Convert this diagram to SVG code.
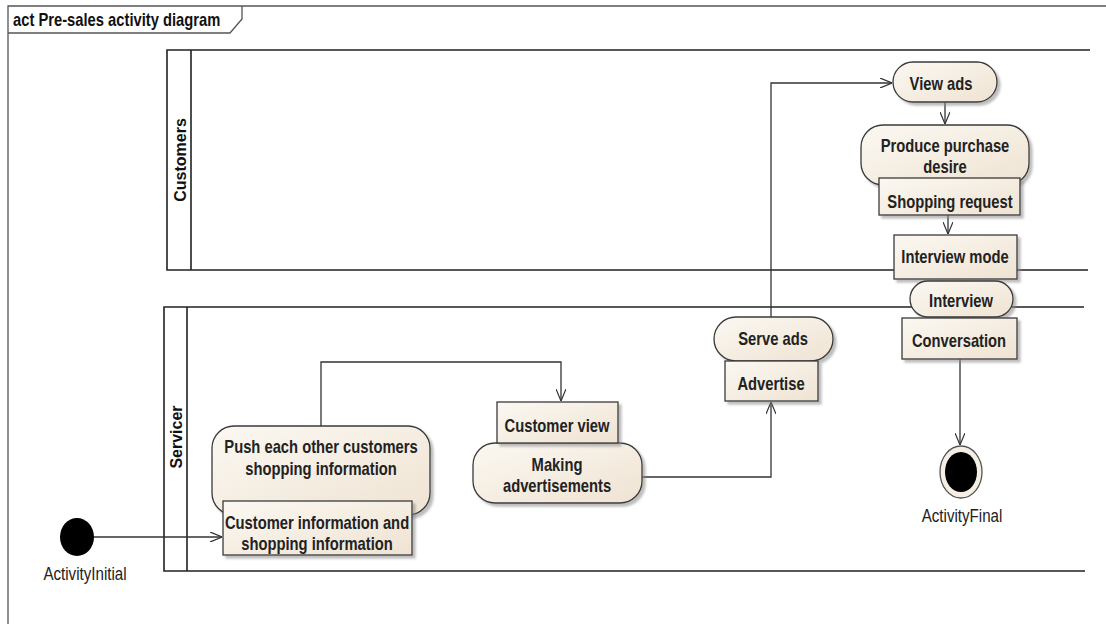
<svg xmlns="http://www.w3.org/2000/svg" width="1106" height="624" viewBox="0 0 1106 624">
<defs>
<linearGradient id="g" x1="0" y1="0" x2="1" y2="1">
<stop offset="0" stop-color="#fbf8f2"/>
<stop offset="1" stop-color="#efe3d2"/>
</linearGradient>
<filter id="sh" x="-10%" y="-10%" width="130%" height="140%">
<feDropShadow dx="3" dy="3" stdDeviation="1.2" flood-color="#888" flood-opacity="0.55"/>
</filter>
<marker id="arr" viewBox="0 0 12 10" refX="12" refY="5" markerWidth="12" markerHeight="10" markerUnits="userSpaceOnUse" orient="auto">
<path d="M0,0 L12,5 L0,10" fill="none" stroke="#333" stroke-width="1.2"/>
</marker>
<style>
.frame{fill:none;stroke:#555;stroke-width:1.3}
.lane{fill:none;stroke:#222;stroke-width:1.6}
.act{fill:url(#g);stroke:#3a3a3a;stroke-width:1.3;filter:url(#sh)}
.obj{fill:url(#g);stroke:#3a3a3a;stroke-width:1.3;filter:url(#sh)}
.t{font-family:"Liberation Sans",Arial,sans-serif;font-weight:bold;font-size:18px;fill:#222;text-anchor:middle}
.ttl{font-family:"Liberation Sans",Arial,sans-serif;font-weight:bold;font-size:18px;fill:#111}
.ln{font-family:"Liberation Sans",Arial,sans-serif;font-weight:bold;font-size:16px;fill:#111;text-anchor:middle}
.lbl{font-family:"Liberation Sans",Arial,sans-serif;font-size:18px;fill:#222;text-anchor:middle}
.c{fill:none;stroke:#333;stroke-width:1.3;marker-end:url(#arr)}
</style>
</defs>
<rect width="1106" height="624" fill="#fff"/>
<g id="frame">
<path class="frame" d="M8,624 V6 H1106"/>
<path class="frame" d="M8,33 H230 L242,19 V6"/>
<text class="ttl" transform="translate(13,26) scale(0.82,1.05)">act Pre-sales activity diagram</text>
</g>
<g id="lane-customers">
<path class="lane" d="M1090,50 H167 V270 H1088 M191,50 V270"/>
<text class="ln" transform="translate(186,160) rotate(-90)">Customers</text>
</g>
<g id="lane-servicer">
<path class="lane" d="M1084,307 H164 V571 H1085 M187,307 V571"/>
<text class="ln" transform="translate(182,437) rotate(-90)">Servicer</text>
</g>
<g id="connectors">
<path class="c" d="M94,537 H222"/>
<path class="c" d="M321,426 V362 H561 V401"/>
<path class="c" d="M642,477 H771 V402"/>
<path class="c" d="M771,317 V83 H892"/>
<path class="c" d="M945,102 V124"/>
<path class="c" d="M948,215 V234"/>
<path class="c" d="M960,359 V445"/>
</g>
<g id="initial">
<ellipse cx="77" cy="537" rx="17" ry="19" fill="#000"/>
<text class="lbl" transform="translate(85,580) scale(0.84,1.05)">ActivityInitial</text>
</g>
<g id="push">
<rect class="act" x="212" y="426" width="218" height="89" rx="22"/>
<text class="t" transform="translate(321,453) scale(0.82,1)">Push each other customers</text>
<text class="t" transform="translate(321,475) scale(0.82,1)">shopping information</text>
</g>
<g id="custinfo">
<rect class="obj" x="223" y="501" width="189" height="54"/>
<text class="t" transform="translate(317,529) scale(0.82,1)">Customer information and</text>
<text class="t" transform="translate(317,550) scale(0.82,1)">shopping information</text>
</g>
<g id="making">
<rect class="act" x="473" y="443" width="169" height="60" rx="22"/>
<text class="t" transform="translate(557,471) scale(0.82,1)">Making</text>
<text class="t" transform="translate(557,492) scale(0.82,1)">advertisements</text>
</g>
<g id="custview">
<rect class="obj" x="497" y="402" width="121" height="41"/>
<text class="t" transform="translate(557,432) scale(0.82,1.05)">Customer view</text>
</g>
<g id="serveads">
<rect class="act" x="714" y="317" width="119" height="44" rx="22"/>
<text class="t" transform="translate(773,345) scale(0.82,1.05)">Serve ads</text>
</g>
<g id="advertise">
<rect class="obj" x="725" y="361" width="93" height="40"/>
<text class="t" transform="translate(771,390) scale(0.82,1.05)">Advertise</text>
</g>
<g id="viewads">
<rect class="act" x="893" y="62" width="104" height="40" rx="20"/>
<text class="t" transform="translate(941,90) scale(0.82,1.05)">View ads</text>
</g>
<g id="produce">
<rect class="act" x="861" y="125" width="168" height="60" rx="22"/>
<text class="t" transform="translate(945,152) scale(0.82,1)">Produce purchase</text>
<text class="t" transform="translate(945,173) scale(0.82,1)">desire</text>
</g>
<g id="shopping">
<rect class="obj" x="879" y="178" width="141" height="37"/>
<text class="t" transform="translate(950,208) scale(0.82,1.05)">Shopping request</text>
</g>
<g id="intmode">
<rect class="obj" x="894" y="235" width="123" height="44"/>
<text class="t" transform="translate(955,263) scale(0.82,1.05)">Interview mode</text>
</g>
<g id="interview">
<rect class="act" x="910" y="281" width="103" height="36" rx="18"/>
<text class="t" transform="translate(961,307) scale(0.82,1.05)">Interview</text>
</g>
<g id="conversation">
<rect class="obj" x="902" y="318" width="115" height="41"/>
<text class="t" transform="translate(959,347) scale(0.82,1.05)">Conversation</text>
</g>
<g id="final">
<ellipse cx="961" cy="472" rx="21" ry="26" fill="#f4eee5" stroke="#555" stroke-width="1.3"/>
<ellipse cx="961" cy="472" rx="16" ry="20" fill="#000"/>
<text class="lbl" transform="translate(962,522) scale(0.84,1.05)">ActivityFinal</text>
</g>
</svg>
